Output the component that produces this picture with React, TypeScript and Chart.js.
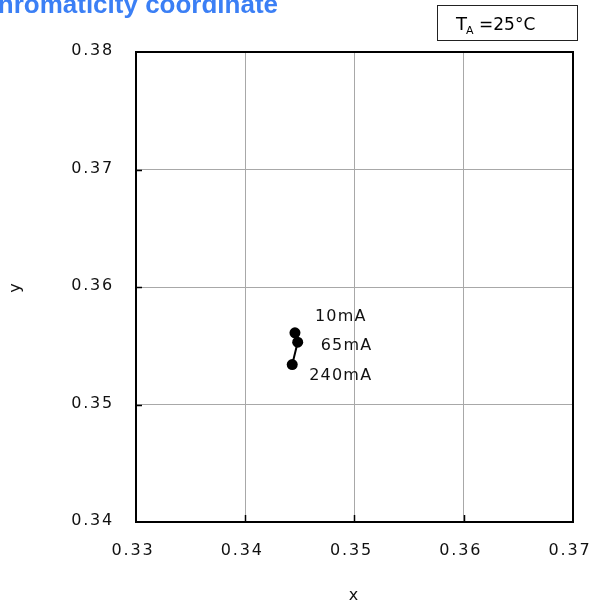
import React, { useEffect, useRef } from "react";
import { Chart, registerables } from "chart.js";

Chart.register(...registerables);

// ---- data ----
const currents = ["10mA", "65mA", "240mA"];
const xValues = [0.34455, 0.3448, 0.3443];
const yValues = [0.3561, 0.3553, 0.3534];
const xTicks = [0.33, 0.34, 0.35, 0.36, 0.37];
const yTicks = [0.34, 0.35, 0.36, 0.37, 0.38];
const titleText = "Chromaticity coordinate";
const conditionMain = "T";
const conditionSub = "A";
const conditionRest = "=25°C";
const xTitle = "x";
const yTitle = "y";

// label offsets (pixels) relative to each point
const labelOffsets = [
  [20, -16],
  [23, 4],
  [17, 11],
];

const FONT = "'DejaVu Sans', Verdana, sans-serif";

const spacingPlugin = {
  id: "spacing",
  beforeDraw(chart: any) {
    try {
      (chart.ctx as any).letterSpacing = "1.8px";
    } catch (e) {}
  },
};

const overlayPlugin = {
  id: "overlay",
  afterDraw(chart: any) {
    const ctx = chart.ctx as CanvasRenderingContext2D;
    const { left, right, top, bottom } = chart.chartArea;
    const xs = chart.scales.x;
    const ys = chart.scales.y;
    ctx.save();

    // frame
    ctx.strokeStyle = "#000";
    ctx.lineWidth = 2;
    ctx.strokeRect(left, top, right - left, bottom - top);

    // inward ticks
    ctx.lineWidth = 1.5;
    xTicks.forEach((v, i) => {
      if (i === 0 || i === xTicks.length - 1) return;
      const px = Math.round(xs.getPixelForValue(v)) + 0.5;
      ctx.beginPath();
      ctx.moveTo(px, bottom);
      ctx.lineTo(px, bottom - 7);
      ctx.stroke();
    });
    yTicks.forEach((v, i) => {
      if (i === 0 || i === yTicks.length - 1) return;
      const py = Math.round(ys.getPixelForValue(v)) + 0.5;
      ctx.beginPath();
      ctx.moveTo(left, py);
      ctx.lineTo(left + 6, py);
      ctx.stroke();
    });

    // title (partially cut off at the top-left)
    (ctx as any).letterSpacing = "0px";
    ctx.fillStyle = "#3b7ff5";
    ctx.font = "bold 26px 'Liberation Sans', Arial, sans-serif";
    ctx.textAlign = "left";
    ctx.textBaseline = "alphabetic";
    ctx.fillText(titleText, -21, 13);

    // condition box
    ctx.strokeStyle = "#222";
    ctx.lineWidth = 1;
    ctx.strokeRect(437.5, 5.5, 140, 35);
    ctx.fillStyle = "#000";
    ctx.font = `18px ${FONT}`;
    ctx.fillText(conditionMain, 456, 30);
    const tw = ctx.measureText(conditionMain).width;
    ctx.font = `11px ${FONT}`;
    ctx.fillText(conditionSub, 456 + tw - 1, 34);
    ctx.font = `17px ${FONT}`;
    ctx.fillText(conditionRest, 479, 30);

    // point labels
    ctx.font = `16px ${FONT}`;
    ctx.textBaseline = "middle";
    ctx.fillStyle = "#111";
    (ctx as any).letterSpacing = "1.2px";
    currents.forEach((lab, i) => {
      const px = xs.getPixelForValue(xValues[i]);
      const py = ys.getPixelForValue(yValues[i]);
      ctx.fillText(lab, px + labelOffsets[i][0], py + labelOffsets[i][1]);
    });
    ctx.restore();
  },
};

export default function App() {
  const ref = useRef<HTMLCanvasElement | null>(null);

  useEffect(() => {
    if (!ref.current) return;
    const chart = new Chart(ref.current, {
      type: "scatter",
      data: {
        datasets: [
          {
            data: xValues.map((x, i) => ({ x, y: yValues[i] })),
            showLine: true,
            borderColor: "#000",
            borderWidth: 2,
            pointRadius: 5.5,
            pointBackgroundColor: "#000",
            pointBorderColor: "#000",
            pointBorderWidth: 0,
          },
        ],
      },
      options: {
        responsive: false,
        animation: false,
        devicePixelRatio: 1,
        layout: { padding: { left: 0, top: 52, right: 18, bottom: 0 } },
        plugins: {
          legend: { display: false },
          tooltip: { enabled: false },
        },
        scales: {
          x: {
            type: "linear",
            position: "bottom",
            min: 0.33,
            max: 0.37,
            afterBuildTicks: (axis: any) => {
              axis.ticks = xTicks.map((v) => ({ value: v }));
            },
            afterFit: (axis: any) => {
              axis.height = 86;
              axis.paddingLeft = 0;
              axis.paddingRight = 0;
            },
            grid: { color: "#a8a8a8", lineWidth: 1, drawTicks: false },
            border: { display: false },
            ticks: {
              padding: 19,
              labelOffset: -3,
              autoSkip: false,
              maxRotation: 0,
              color: "#111",
              font: { family: FONT, size: 16 },
              callback: (v: any) => Number(v).toFixed(2),
            },
            title: {
              display: true,
              text: xTitle,
              color: "#111",
              font: { family: FONT, size: 16 },
              padding: { top: 0, bottom: 3 },
            },
          },
          y: {
            type: "linear",
            min: 0.34,
            max: 0.38,
            afterBuildTicks: (axis: any) => {
              axis.ticks = yTicks.map((v) => ({ value: v }));
            },
            afterFit: (axis: any) => {
              axis.width = 136;
              axis.paddingTop = 0;
              axis.paddingBottom = 0;
            },
            grid: { color: "#a8a8a8", lineWidth: 1, drawTicks: false },
            border: { display: false },
            ticks: {
              padding: 22,
              labelOffset: -1,
              autoSkip: false,
              color: "#111",
              font: { family: FONT, size: 16 },
              callback: (v: any) => Number(v).toFixed(2),
            },
            title: {
              display: true,
              text: yTitle,
              color: "#111",
              font: { family: FONT, size: 16 },
              padding: { top: 6, bottom: 0 },
            },
          },
        },
      },
      plugins: [spacingPlugin, overlayPlugin],
    } as any);
    return () => chart.destroy();
  }, []);

  return (
    <div style={{ position: "absolute", left: 0, top: 0, width: 591, height: 608, background: "#fff" }}>
      <canvas ref={ref} width={591} height={608} style={{ display: "block" }} />
    </div>
  );
}
